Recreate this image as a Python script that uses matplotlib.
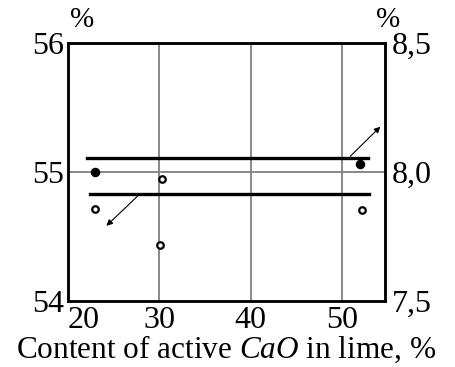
import numpy as np
import matplotlib
matplotlib.use('Agg')
import matplotlib.pyplot as plt

plt.rcParams['font.family'] = 'Liberation Serif'
plt.rcParams['mathtext.fontset'] = 'custom'
plt.rcParams['mathtext.rm'] = 'Liberation Serif'
plt.rcParams['mathtext.it'] = 'Liberation Serif:italic'

# mean levels (left scale, %)
upper_level = 55.11
lower_level = 54.83
level_x = [22.1, 52.9]
lower_x = [22.4, 53.0]

# filled points
cao_filled = [23.0, 52.0]
val_filled = [55.0, 55.06]

# open points
cao_open = [23.0, 30.3, 30.1, 52.2]
val_open = [54.71, 54.94, 54.43, 54.70]

# arrows: (tail, head)
arrows = [((27.6, 54.81), (24.2, 54.58)),
          ((50.9, 55.12), (54.2, 55.35))]

left_ticks = [54, 55, 56]
right_ticks = [7.5, 8.0, 8.5]
right_labels = ['7,5', '8,0', '8,5']
x_ticks = [20, 30, 40, 50]

fig = plt.figure(figsize=(4.55, 3.67), dpi=100)
ax = fig.add_axes([0.1495, 0.181, 0.6965, 0.702])

for x in [30, 40, 50]:
    ax.axvline(x, color='#808080', lw=1.3, zorder=1)
ax.axhline(55, color='#808080', lw=1.3, zorder=1)

ax.plot(level_x, [upper_level] * 2, color='black', lw=2.4, zorder=3)
ax.plot(lower_x, [lower_level] * 2, color='black', lw=2.4, zorder=3)

ax.scatter(cao_filled, val_filled, s=34, color='black', zorder=2)
ax.scatter(cao_open, val_open, s=22, facecolor='white', edgecolor='black',
           linewidths=1.6, zorder=4)

for (x0, y0), (x1, y1) in arrows:
    ax.annotate('', xy=(x1, y1), xytext=(x0, y0),
                arrowprops=dict(arrowstyle='-|>', color='black', lw=0.8,
                                mutation_scale=9, shrinkA=0, shrinkB=0))

ax.set_xlim(20, 54.7)
ax.set_ylim(54, 56)
ax.set_xticks(x_ticks)
ax.set_yticks(left_ticks)
ax.tick_params(length=0, labelsize=23, pad=3)
ax.tick_params(axis='x', pad=4)
ax.get_xticklabels()[0].set_horizontalalignment('left')
for s in ax.spines.values():
    s.set_linewidth(1.8)

ax2 = ax.twinx()
ax2.set_ylim(7.5, 8.5)
ax2.set_yticks(right_ticks)
ax2.set_yticklabels(right_labels)
ax2.tick_params(length=0, labelsize=23, pad=5)
for s in ax2.spines.values():
    s.set_linewidth(1.8)

ax.set_xlabel('Content of active $CaO$ in lime, %', fontsize=22.5, labelpad=-1)
fig.text(82 / 455, 1 - 20 / 367, '%', fontsize=21, ha='center', va='center')
fig.text(388 / 455, 1 - 20 / 367, '%', fontsize=21, ha='center', va='center')

plt.savefig('out.png', dpi=100)
